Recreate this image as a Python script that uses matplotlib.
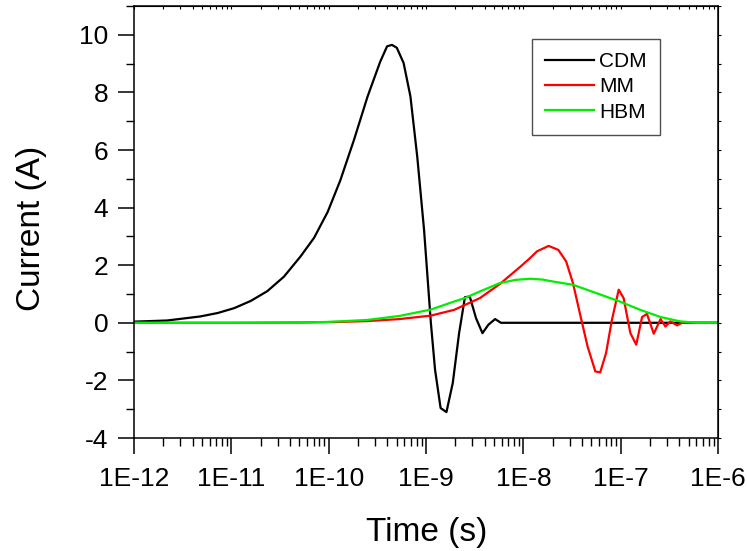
import numpy as np
import matplotlib
matplotlib.use("Agg")
import matplotlib.pyplot as plt
from matplotlib.ticker import FixedLocator, MultipleLocator, FuncFormatter, LogLocator, NullFormatter

plt.rcParams['font.family'] = ['Liberation Sans', 'DejaVu Sans']
plt.rcParams['axes.unicode_minus'] = False

# log10(time in s) and current (A)
cdm_logt = [-12.0, -11.66, -11.32, -11.14, -10.97, -10.80, -10.63, -10.46, -10.29, -10.15,
            -10.01, -9.88, -9.74, -9.60, -9.47, -9.40, -9.35, -9.30, -9.23, -9.16,
            -9.09, -9.02, -8.95, -8.907, -8.85, -8.79, -8.725, -8.66, -8.60, -8.55,
            -8.486, -8.42, -8.36, -8.29, -8.23, -7.0, -6.0]
cdm_i = [0.04, 0.08, 0.22, 0.34, 0.51, 0.76, 1.1, 1.6, 2.3, 2.95,
         3.85, 4.95, 6.35, 7.86, 9.07, 9.6, 9.65, 9.55, 9.02, 7.86,
         5.77, 3.23, 0.0, -1.63, -2.96, -3.10, -2.09, -0.36, 0.89, 0.91,
         0.16, -0.36, -0.07, 0.13, 0.0, 0.0, 0.0]

mm_logt = [-12.0, -11.0, -10.3, -9.9, -9.6, -9.27, -8.95, -8.71, -8.60, -8.445,
           -8.24, -8.03, -7.93, -7.86, -7.74, -7.64, -7.56, -7.49, -7.42, -7.34,
           -7.26, -7.21, -7.15, -7.09, -7.02, -6.97, -6.90, -6.84, -6.78, -6.73,
           -6.66, -6.59, -6.54, -6.49, -6.42, -6.37, -6.0]
mm_i = [0.0, 0.0, 0.01, 0.03, 0.06, 0.13, 0.25, 0.45, 0.62, 0.86,
        1.35, 1.95, 2.25, 2.48, 2.67, 2.53, 2.13, 1.38, 0.34, -0.82,
        -1.69, -1.72, -1.05, 0.10, 1.15, 0.86, -0.36, -0.76, 0.20, 0.31,
        -0.38, 0.13, -0.13, 0.05, -0.09, 0.0, 0.0]

hbm_logt = [-12.0, -11.0, -10.29, -10.0, -9.6, -9.27, -8.95, -8.71, -8.60, -8.445,
            -8.24, -8.08, -7.93, -7.80, -7.69, -7.49, -7.25, -7.01, -6.80, -6.59,
            -6.39, -6.22, -6.0]
hbm_i = [0.0, 0.0, 0.01, 0.03, 0.10, 0.24, 0.46, 0.74, 0.86, 1.09,
         1.38, 1.49, 1.53, 1.50, 1.43, 1.32, 1.03, 0.74, 0.45, 0.20,
         0.05, 0.0, 0.0]

fig = plt.figure(figsize=(7.47, 5.51), dpi=100)
ax = fig.add_axes([134 / 747, 1 - 438 / 551, 584 / 747, 432 / 551])

ax.plot(10 ** np.array(cdm_logt), cdm_i, color='black', lw=1.6, label='CDM')
ax.plot(10 ** np.array(mm_logt), mm_i, color='#ff0000', lw=1.6, label='MM')
ax.plot(10 ** np.array(hbm_logt), hbm_i, color='#00ee00', lw=1.6, label='HBM')

ax.set_xscale('log')
ax.set_xlim(1e-12, 1e-6)
ax.set_ylim(-4, 11)
ax.xaxis.set_major_locator(FixedLocator([1e-12, 1e-11, 1e-10, 1e-9, 1e-8, 1e-7, 1e-6]))
ax.xaxis.set_major_formatter(FuncFormatter(lambda v, p: "1E%d" % round(np.log10(v))))
ax.xaxis.set_minor_locator(LogLocator(base=10, subs=np.arange(2, 10), numticks=20))
ax.xaxis.set_minor_formatter(NullFormatter())
ax.yaxis.set_major_locator(FixedLocator([-4, -2, 0, 2, 4, 6, 8, 10]))
ax.yaxis.set_minor_locator(MultipleLocator(1))

ax.tick_params(which='major', direction='out', length=11.5, width=1.1, labelsize=19)
ax.tick_params(axis='x', which='major', pad=9.5)
ax.tick_params(axis='y', which='major', pad=7)
ax.tick_params(which='minor', direction='out', length=5.5, width=1.0)
for sp in ax.spines.values():
    sp.set_linewidth(1.1)

# tiny ticks on top and right
ax_top = ax.secondary_xaxis('top')
ax_top.xaxis.set_major_locator(FixedLocator([1e-12, 1e-11, 1e-10, 1e-9, 1e-8, 1e-7, 1e-6]))
ax_top.xaxis.set_minor_locator(LogLocator(base=10, subs=np.arange(2, 10), numticks=20))
ax_top.tick_params(which='both', direction='in', length=2, width=0.8, labeltop=False)
ax_top.xaxis.set_minor_formatter(NullFormatter())
ax_right = ax.secondary_yaxis('right')
ax_right.yaxis.set_major_locator(FixedLocator([-4, -2, 0, 2, 4, 6, 8, 10]))
ax_right.yaxis.set_minor_locator(MultipleLocator(1))
ax_right.tick_params(which='both', direction='out', length=2, width=0.8, labelright=False)

ax.set_xlabel('Time (s)', fontsize=24)
ax.set_ylabel('Current (A)', fontsize=24)
ax.xaxis.set_label_coords(0.501, -0.184)
ax.yaxis.set_label_coords(-0.149, 0.485)

leg = ax.legend(loc='upper left', bbox_to_anchor=(0.681, 0.923), borderaxespad=0,
                fontsize=15, frameon=True, fancybox=False, handlelength=2.35,
                handletextpad=0.27, labelspacing=0.3, borderpad=0.62)
leg.get_frame().set_edgecolor('#222222')
leg.get_frame().set_linewidth(1.0)

fig.savefig('out.png', dpi=100)
